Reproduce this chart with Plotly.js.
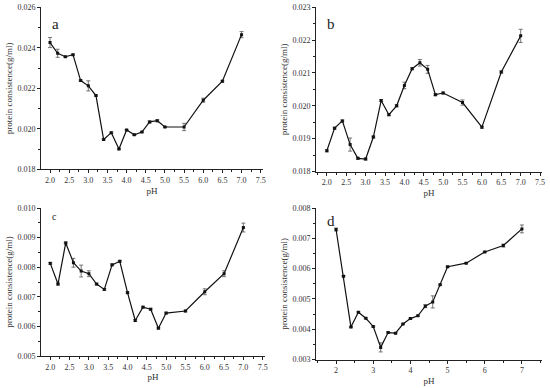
<!DOCTYPE html>
<html><head><meta charset="utf-8">
<script src="https://cdn.plot.ly/plotly-3.0.1.min.js"></script>
<style>html,body{margin:0;padding:0;background:#fff}#chart{width:550px;height:388px}</style>
</head><body><div id="chart"></div>
<script>
const pH = [2.0,2.2,2.4,2.6,2.8,3.0,3.2,3.4,3.6,3.8,4.0,4.2,4.4,4.6,4.8,5.0,5.5,6.0,6.5,7.0];
const consA = [0.02426,0.02373,0.02356,0.02366,0.02238,0.02212,0.02164,0.01947,0.01981,0.01900,0.01994,0.01970,0.01984,0.02034,0.02040,0.02009,0.02009,0.02141,0.02235,0.02465];
const errA  = [0.00025,0.00020,0.00003,0.00003,0.00003,0.00025,0.00003,0.00003,0.00003,0.00003,0.00003,0.00003,0.00003,0.00005,0.00005,0.00003,0.00018,0.00010,0.00005,0.00015];
const consB = [0.01863,0.01932,0.01954,0.01882,0.01840,0.01838,0.01905,0.02016,0.01973,0.02000,0.02062,0.02113,0.02131,0.02111,0.02034,0.02039,0.02010,0.01935,0.02103,0.02213];
const errB  = [0.00003,0.00003,0.00003,0.00020,0.00003,0.00003,0.00003,0.00003,0.00003,0.00003,0.00010,0.00003,0.00010,0.00012,0.00003,0.00003,0.00008,0.00003,0.00003,0.00020];
const consC = [0.00813,0.00743,0.00882,0.00815,0.00787,0.00778,0.00743,0.00725,0.00808,0.00820,0.00714,0.00620,0.00665,0.00658,0.00594,0.00645,0.00652,0.00717,0.00778,0.00934];
const errC  = [0.00003,0.00003,0.00003,0.00015,0.00020,0.00010,0.00003,0.00003,0.00003,0.00003,0.00003,0.00003,0.00003,0.00003,0.00003,0.00003,0.00003,0.00010,0.00010,0.00015];
const consD = [0.00729,0.00575,0.00407,0.00456,0.00436,0.00409,0.00340,0.00389,0.00387,0.00417,0.00435,0.00444,0.00476,0.00490,0.00547,0.00606,0.00618,0.00655,0.00676,0.00731];
const errD  = [0.00005,0.00002,0.00002,0.00002,0.00002,0.00002,0.00015,0.00002,0.00002,0.00002,0.00002,0.00002,0.00005,0.00020,0.00002,0.00002,0.00002,0.00002,0.00005,0.00013];
const panelLabels = ['a','b','c','d'];
const yTitle = 'protein consistence(g/ml)';
const xTitle = 'pH';

const series = [consA, consB, consC, consD];
const errs = [errA, errB, errC, errD];
const FONT = 'Liberation Serif, Times New Roman, serif';

const traces = series.map((ys, i) => ({
  x: pH, y: ys,
  xaxis: i === 0 ? 'x' : 'x' + (i + 1),
  yaxis: i === 0 ? 'y' : 'y' + (i + 1),
  type: 'scatter', mode: 'lines+markers',
  line: {color: '#111', width: 1.2},
  marker: {symbol: 'square', size: 3, color: '#111'},
  error_y: {type: 'data', array: errs[i], visible: true, color: '#555', thickness: 0.8, width: 2},
  showlegend: false, hoverinfo: 'x+y'
}));

const W = 550, H = 388;
const px = (a, b) => [a / W, b / W];
const py = (top, bot) => [1 - bot / H, 1 - top / H];

const common = {
  showline: true, linecolor: '#222', linewidth: 1, showgrid: false, zeroline: false,
  ticks: 'outside', ticklen: 3, tickwidth: 1, tickcolor: '#222',
  tickfont: {family: FONT, size: 8, color: '#333'},
  mirror: false
};
function xa(dom, range, dtick, fmt, anchor) {
  return Object.assign({}, common, {domain: dom, range: range, dtick: dtick, tick0: 0, tickformat: fmt, anchor: anchor,
    minor: {dtick: dtick / 2, ticks: 'outside', ticklen: 2, tickcolor: '#222'},
    title: {text: xTitle, font: {family: FONT, size: 9, color: '#333'}, standoff: 3}});
}
function ya(dom, range, dtick, anchor) {
  return Object.assign({}, common, {domain: dom, range: range, dtick: dtick, tick0: 0, tickformat: '.3f', anchor: anchor,
    minor: {dtick: dtick / 2, ticks: 'outside', ticklen: 2, tickcolor: '#222'},
    title: {text: yTitle, font: {family: FONT, size: 9, color: '#333'}, standoff: 3}});
}

const layout = {
  width: W, height: H, margin: {l: 0, r: 0, t: 0, b: 0},
  paper_bgcolor: '#fff', plot_bgcolor: '#fff',
  font: {family: FONT, color: '#222'},
  xaxis:  xa(px(41, 263), [1.765, 7.56], 0.5, '.1f', 'y'),
  yaxis:  ya(py(7.3, 169.3), [0.018, 0.026], 0.002, 'x'),
  xaxis2: xa(px(316, 542), [1.72, 7.55], 0.5, '.1f', 'y2'),
  yaxis2: ya(py(7.3, 171.5), [0.018, 0.023], 0.001, 'x2'),
  xaxis3: xa(px(41, 265), [1.76, 7.56], 0.5, '.1f', 'y3'),
  yaxis3: ya(py(208, 356), [0.005, 0.010], 0.001, 'x3'),
  xaxis4: xa(px(316, 542), [1.46, 7.54], 1, 'd', 'y4'),
  yaxis4: ya(py(208, 359.5), [0.003, 0.008], 0.001, 'x4'),
  annotations: [
    {text: panelLabels[0], x: 0.04, y: 0.96, xref: 'x domain', yref: 'y domain', xanchor: 'left', yanchor: 'top', showarrow: false, font: {family: FONT, size: 15, color: '#222'}},
    {text: panelLabels[1], x: 0.04, y: 0.96, xref: 'x2 domain', yref: 'y2 domain', xanchor: 'left', yanchor: 'top', showarrow: false, font: {family: FONT, size: 15, color: '#222'}},
    {text: panelLabels[2], x: 0.04, y: 0.99, xref: 'x3 domain', yref: 'y3 domain', xanchor: 'left', yanchor: 'top', showarrow: false, font: {family: FONT, size: 10, color: '#222'}},
    {text: panelLabels[3], x: 0.04, y: 0.98, xref: 'x4 domain', yref: 'y4 domain', xanchor: 'left', yanchor: 'top', showarrow: false, font: {family: FONT, size: 15, color: '#222'}}
  ]
};

Plotly.newPlot('chart', traces, layout, {displayModeBar: false, staticPlot: true});
</script>
</body></html>
